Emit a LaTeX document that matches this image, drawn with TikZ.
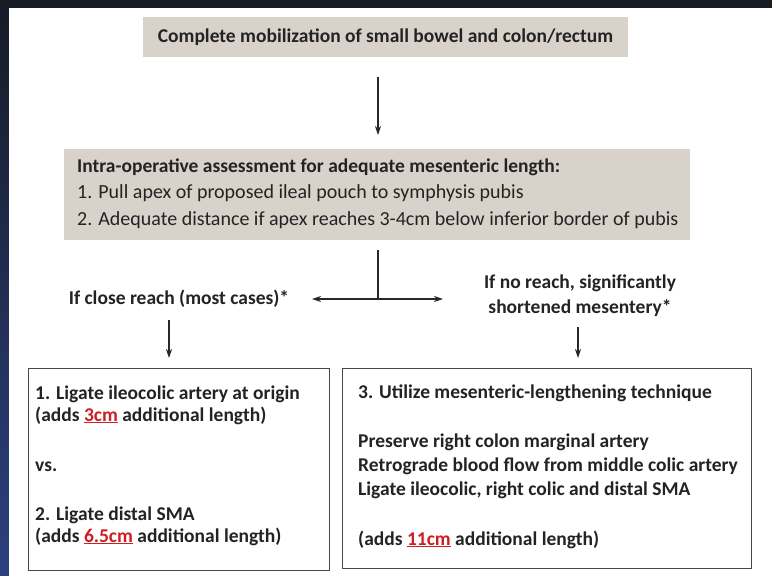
\documentclass[tikz,border=0pt]{standalone}
\usepackage{fontspec}
\setmainfont{Carlito}
\usetikzlibrary{arrows.meta}
\definecolor{beige}{RGB}{216,210,203}
\definecolor{darkbg}{RGB}{22,27,36}
\definecolor{bluebg}{RGB}{44,64,128}
\definecolor{redc}{RGB}{205,30,35}
\definecolor{linec}{RGB}{40,40,40}
\definecolor{textc}{RGB}{35,35,35}
\newcommand{\redu}[1]{\textcolor{redc}{\underline{#1}}}
\begin{document}
\begin{tikzpicture}[x=1pt,y=-1pt,
  arr/.style={draw=linec, line width=1.2pt, -{Stealth[length=9pt,width=6pt]}},
  ln/.style={draw=linec, line width=1.2pt},
  beigebox/.style={fill=beige, draw=none, inner sep=0pt},
  whitebox/.style={draw=linec!85, line width=1.4pt, fill=white, inner sep=0pt},
  txt/.style={text=textc, inner sep=0pt, align=left, font=\bfseries\fontsize{19.5}{22}\selectfont},
]
\useasboundingbox (0,0) rectangle (772,576);
\fill[darkbg] (0,0) rectangle (772,576);
\shade[top color=darkbg, bottom color=bluebg] (0,0) rectangle (9,576);
\fill[white] (9,8) rectangle (772,576);

% top box
\node[beigebox, txt, minimum width=485pt, minimum height=40pt] (b1) at (385.5,37) {Complete mobilization of small bowel and colon/rectum};

% assessment box
\node[beigebox, minimum width=626pt, minimum height=91pt, anchor=north west] (b2) at (64,149) {};
\node[txt, anchor=base west, font=\bfseries\fontsize{19.5}{27}\selectfont] (t2) at (77,225) {Intra-operative assessment for adequate mesenteric length:\\[-1pt]
\textmd{\fontsize{20}{26}\selectfont 1. Pull apex of proposed ileal pouch to symphysis pubis}\\
\textmd{\fontsize{20}{26}\selectfont 2. Adequate distance if apex reaches 3-4cm below inferior border of pubis}};

% branch
\coordinate (split) at (378,299);
\coordinate (ltip) at (312,299);
\coordinate (rtip) at (443,299);
\draw[arr, shorten <=20pt, shorten >=14pt] (b1.south -| split) -- (b2.north -| split);
\draw[ln, shorten <=10pt] (b2.south -| split) -- (split);
\draw[arr] (split) -- (ltip);
\draw[arr] (split) -- (rtip);

% labels
\node[txt, anchor=base] (lab1) at (179,304) {If close reach (most cases)*};
\node[txt, anchor=base, align=center, font=\bfseries\fontsize{19.5}{25}\selectfont] (lab2) at (580,313) {If no reach, significantly\\ shortened mesentery*};

% bottom boxes
\node[whitebox, minimum width=301pt, minimum height=202pt, anchor=north west] (b3) at (28,368) {};
\node[whitebox, minimum width=409pt, minimum height=200pt, anchor=north west] (b4) at (342,368) {};

\coordinate (d1) at (169,320);
\coordinate (d2) at (578,327);
\draw[arr, shorten >=10pt] (d1) -- (d1 |- b3.north);
\draw[arr, shorten >=10pt] (d2) -- (d2 |- b4.north);

\node[txt, anchor=base west] (t3) at (35,542) {1. Ligate ileocolic artery at origin\\
(adds \redu{3cm} additional length)\\[28pt]
vs.\\[27pt]
2. Ligate distal SMA\\
(adds \redu{6.5cm} additional length)};

\node[txt, anchor=base west, font=\bfseries\fontsize{19.5}{24}\selectfont] (t4) at (358,545) {3. Utilize mesenteric-lengthening technique\\[25pt]
Preserve right colon marginal artery\\
Retrograde blood flow from middle colic artery\\
Ligate ileocolic, right colic and distal SMA\\[26pt]
(adds \redu{11cm} additional length)};
\end{tikzpicture}
\end{document}
